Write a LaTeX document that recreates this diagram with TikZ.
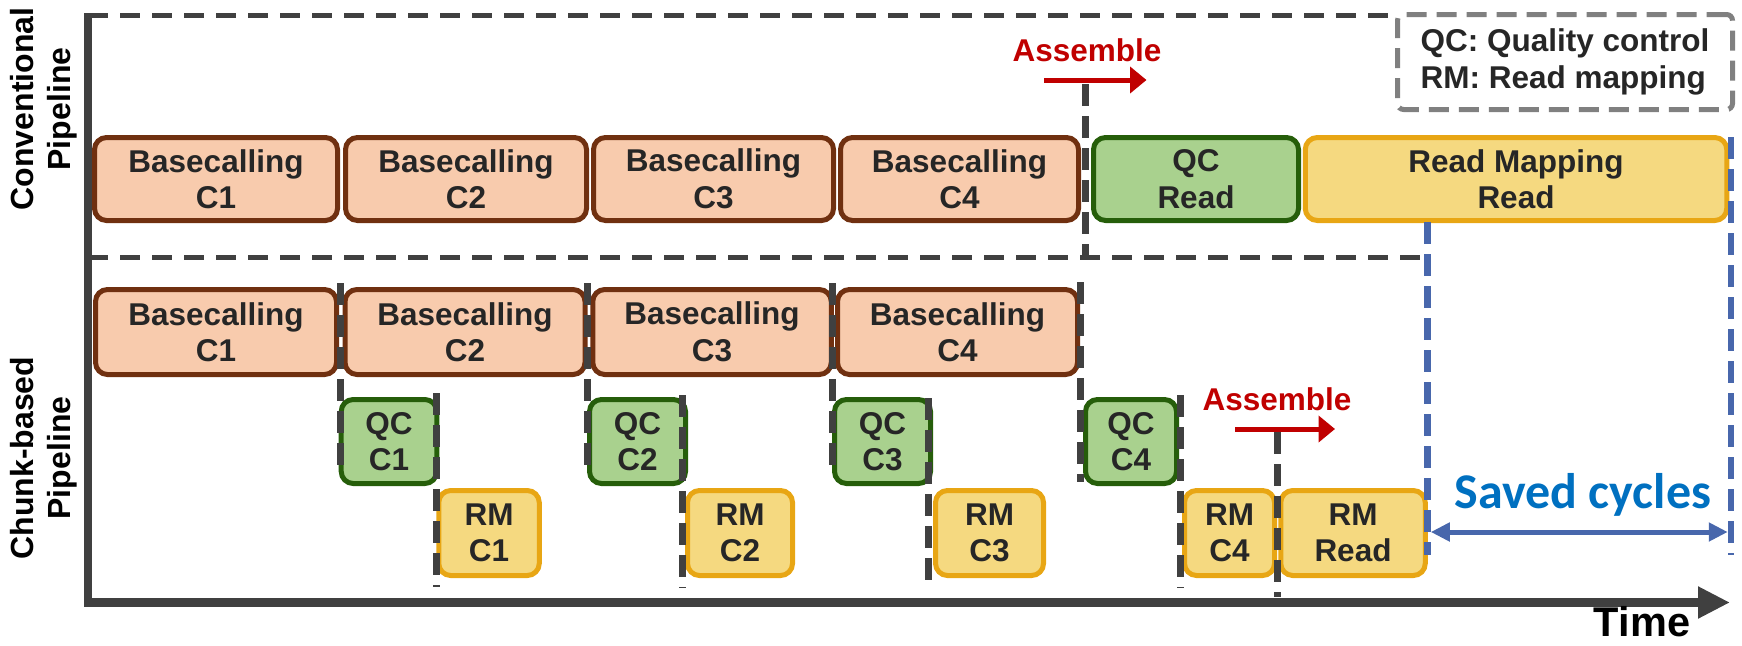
\documentclass[tikz,border=0pt]{standalone}
\usepackage{fontspec}
\setmainfont{Liberation Sans}
\newfontfamily\carlito{Carlito}
\usetikzlibrary{arrows.meta}
\definecolor{bcfill}{RGB}{248,203,173}
\definecolor{bcline}{RGB}{112,48,16}
\definecolor{qcfill}{RGB}{169,209,142}
\definecolor{qcline}{RGB}{38,94,10}
\definecolor{rmfill}{RGB}{245,217,128}
\definecolor{rmline}{RGB}{232,166,20}
\definecolor{dgray}{RGB}{64,64,64}
\definecolor{lgray}{RGB}{128,128,128}
\definecolor{asmred}{RGB}{192,0,0}
\definecolor{bline}{RGB}{72,103,172}
\definecolor{btext}{RGB}{0,112,192}
\definecolor{txt}{RGB}{38,38,38}
\newcommand\boxfont{\fontsize{31.5}{36.5}\selectfont\bfseries}
\newcommand\sidefont{\fontsize{32}{37}\selectfont\bfseries}
\tikzset{
  box/.style={draw, rounded corners=12pt, line width=5pt, align=center, inner sep=0pt, text=txt, font=\boxfont},
  bcbox/.style={box, fill=bcfill, draw=bcline},
  qcbox/.style={box, fill=qcfill, draw=qcline},
  rmbox/.style={box, fill=rmfill, draw=rmline},
  sepline/.style={draw=dgray, line width=7pt, dash pattern=on 22pt off 10pt},
  frameline/.style={draw=dgray, line width=5pt, dash pattern=on 20pt off 12pt},
  blueline/.style={draw=bline, line width=6.5pt, dash pattern=on 22pt off 10pt},
  axisline/.style={draw=dgray, line width=#1},
  redarrow/.style={draw=asmred, line width=5pt, -{Triangle[length=16.5pt,width=26pt]}},
  asmtext/.style={text=asmred, font=\boxfont, inner sep=0pt, anchor=base},
  sidelabel/.style={font=\sidefont, align=center, rotate=90, inner sep=0pt, text=black},
  legendbox/.style={draw=lgray, line width=5pt, dash pattern=on 20pt off 10pt, rounded corners=6pt, align=left, text=txt, font=\boxfont, inner sep=0pt, minimum width=335pt, minimum height=95pt}
}
\begin{document}
\begin{tikzpicture}[x=1pt,y=-1pt]
\useasboundingbox (0,0) rectangle (1742,645);
% frame (conventional pipeline region)
\coordinate (ftl) at (88,15.7);
\coordinate (ftr) at (1388,15.7);
\coordinate (fbl) at (88,257);
\coordinate (fbr) at (1427.5,257);
\draw[frameline] (ftl) -- (ftr);
\draw[frameline] (fbl) -- (fbr);
% axes
\coordinate (ytop) at (88,13);
\coordinate (ybot) at (88,607);
\coordinate (xl) at (84.25,602.5);
\coordinate (xr) at (1730,602.5);
\draw[axisline=7.5pt] (ytop) -- (ybot);
\draw[axisline=9pt, -{Triangle[length=32pt,width=30pt]}] (xl) -- (xr);
% legend
\node[legendbox] (leg) at (1565,62) {QC: Quality control\\RM: Read mapping};
% side labels
\node[sidelabel] (lconv) at (43.5,109) {Conventional\\Pipeline};
\node[sidelabel] (lchunk) at (43.5,458) {Chunk-based\\Pipeline};
% conventional row
\node[bcbox, minimum width=243pt, minimum height=83pt] (cb1) at (216,179) {Basecalling\\C1};
\node[bcbox, minimum width=241pt, minimum height=83pt] (cb2) at (466,179) {Basecalling\\C2};
\node[bcbox, minimum width=240pt, minimum height=83pt] (cb3) at (713.5,179) {Basecalling\\C3};
\node[bcbox, minimum width=238pt, minimum height=83pt] (cb4) at (959.5,179) {Basecalling\\C4};
\node[qcbox, minimum width=205pt, minimum height=83pt] (cqc) at (1196,179) {QC\\Read};
\node[rmbox, minimum width=421.5pt, minimum height=83pt] (crm) at (1516,179) {Read Mapping\\Read};
% chunk-based basecalling row
\node[bcbox, minimum width=241pt, minimum height=85pt] (kb1) at (216,332) {Basecalling\\C1};
\node[bcbox, minimum width=240pt, minimum height=85pt] (kb2) at (465,332) {Basecalling\\C2};
\node[bcbox, minimum width=238.5pt, minimum height=85pt] (kb3) at (712,332) {Basecalling\\C3};
\node[bcbox, minimum width=240pt, minimum height=85pt] (kb4) at (957.5,332) {Basecalling\\C4};
% QC row
\node[qcbox, minimum width=95.6pt, minimum height=84pt] (q1) at (389,441.5) {QC\\C1};
\node[qcbox, minimum width=96pt, minimum height=84pt] (q2) at (637.5,441.5) {QC\\C2};
\node[qcbox, minimum width=96pt, minimum height=84pt] (q3) at (882.5,441.5) {QC\\C3};
\node[qcbox, minimum width=91pt, minimum height=84pt] (q4) at (1131,441.5) {QC\\C4};
% RM row
\node[rmbox, minimum width=100.5pt, minimum height=85pt] (r1) at (489,533) {RM\\C1};
\node[rmbox, minimum width=105pt, minimum height=85pt] (r2) at (740,533) {RM\\C2};
\node[rmbox, minimum width=108pt, minimum height=85pt] (r3) at (989.5,533) {RM\\C3};
\node[rmbox, minimum width=90pt, minimum height=85pt] (r4) at (1229.5,533) {RM\\C4};
\node[rmbox, minimum width=144.5pt, minimum height=85pt] (r5) at (1353,533) {RM\\Read};
% separators
\coordinate (s1a) at (340.6,283); \coordinate (s1b) at (340.6,475);
\coordinate (s2a) at (436,393);   \coordinate (s2b) at (436,587);
\coordinate (s3a) at (587.5,283); \coordinate (s3b) at (587.5,475);
\coordinate (s4a) at (682,395);   \coordinate (s4b) at (682,588);
\coordinate (s5a) at (832,283);   \coordinate (s5b) at (832,475);
\coordinate (s6a) at (928,398);   \coordinate (s6b) at (928,590);
\coordinate (s7a) at (1080,282);  \coordinate (s7b) at (1080,482);
\coordinate (s8a) at (1180,395);  \coordinate (s8b) at (1180,588);
\coordinate (s9a) at (1277.6,432);\coordinate (s9b) at (1277.6,597);
\coordinate (t1a) at (1085,84);   \coordinate (t1b) at (1085,257);
\foreach \p in {s1,s2,s3,s4,s5,s6,s7,s8,s9,t1} {\draw[sepline] (\p a) -- (\p b);}
% saved cycles
\coordinate (bla) at (1427.5,222); \coordinate (blb) at (1427.5,555);
\coordinate (bra) at (1731,137);   \coordinate (brb) at (1731,555);
\draw[blueline] (bla) -- (blb);
\draw[blueline] (bra) -- (brb);
\coordinate (sal) at (1430.75,532); \coordinate (sar) at (1727.75,532);
\draw[draw=bline, line width=5pt, {Triangle[length=19pt,width=18pt]}-{Triangle[length=19pt,width=18pt]}] (sal) -- (sar);
\node[anchor=base, inner sep=0pt, text=btext, font=\carlito\fontsize{50}{56}\selectfont\bfseries] (saved) at (1583,508) {Saved cycles};
% assemble
\node[asmtext] (asm1) at (1087,61) {Assemble};
\coordinate (a1s) at (1044,80); \coordinate (a1e) at (1146.5,80);
\draw[redarrow] (a1s) -- (a1e);
\node[asmtext] (asm2) at (1277,410) {Assemble};
\coordinate (a2s) at (1235,429); \coordinate (a2e) at (1335,429);
\draw[redarrow] (a2s) -- (a2e);
% time
\node[anchor=base, inner sep=0pt, text=black, font=\fontsize{41.5}{48}\selectfont\bfseries] (time) at (1642,636) {Time};
\end{tikzpicture}
\end{document}
